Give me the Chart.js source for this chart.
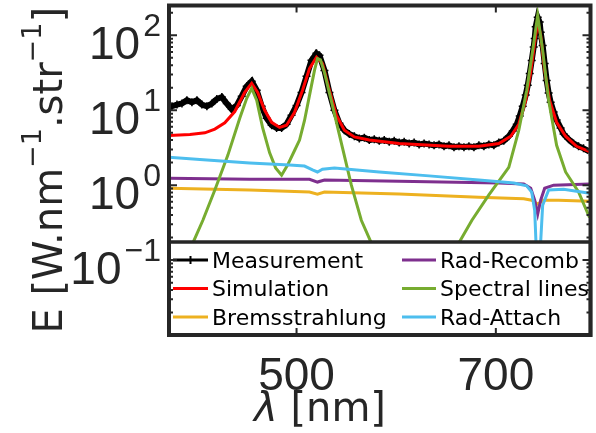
<!DOCTYPE html>
<html>
<head>
<meta charset="utf-8">
<script src="https://cdn.jsdelivr.net/npm/chart.js@4.4.1/dist/chart.umd.min.js"></script>
<style>
  html, body { margin: 0; padding: 0; background: #fff; }
</style>
</head>
<body>
<canvas id="spectrum" width="596" height="433"></canvas>
<script>
(function () {
  'use strict';

  // wavelength [nm] / emission values
  const measWl = [370, 375, 380, 385, 390, 395, 400, 405, 410, 415, 420, 425, 430, 435, 440, 445, 450, 455, 460, 465,
    470, 475, 480, 485, 490, 495, 500, 505, 510, 515, 520, 523, 528, 533, 538, 543, 548, 553, 558, 563,
    568, 573, 578, 583, 588, 593, 598, 603, 608, 613, 618, 623, 628, 633, 638, 643, 648, 653, 658, 663,
    668, 673, 678, 683, 688, 693, 698, 703, 708, 713, 717, 721, 724, 727, 730, 732, 734, 736, 738, 739,
    740, 742, 744, 745, 747, 749, 751, 753, 755, 758, 761, 765, 768, 773, 778, 783, 788, 794];
  const measE = [10.6, 11.3, 11.9, 12.3, 13.6, 12.8, 13.6, 11.9, 11.3, 12.3, 14.1, 15.0, 12.3, 10.3, 11.6, 15.4, 20.9, 24.4, 18.5, 11.3,
    7.8, 6.3, 5.8, 5.8, 6.5, 8.6, 11.6, 17.3, 28.4, 46.4, 57.5, 54, 34, 17.3, 10, 6.7, 5.4, 4.8, 4.5, 4.2,
    4.3, 4.0, 4.1, 3.9, 4.0, 3.8, 3.9, 3.7, 3.8, 3.6, 3.7, 3.5, 3.6, 3.5, 3.4, 3.5, 3.3, 3.4, 3.2, 3.3,
    3.2, 3.3, 3.2, 3.4, 3.3, 3.5, 3.4, 3.7, 3.9, 4.5, 5.3, 6.5, 8.4, 11.3, 16, 21.5, 31, 46, 70, 91,
    130, 174, 150, 110, 73, 42, 25, 17, 12.8, 9.5, 7.4, 5.8, 4.8, 4.1, 3.6, 3.3, 3.1, 2.8];

  const simWl = [370, 393, 408, 418, 428, 438, 448, 455, 461, 468, 475, 483, 490, 498, 506, 513, 520, 526, 533, 540, 548,
    558, 573, 603, 653, 683, 703, 715, 723, 730, 735, 739, 742, 745, 749, 754, 761, 770, 781, 794];
  const simE = [4.6, 4.75, 5.0, 5.6, 6.8, 9.6, 17.3, 22.9, 17.3, 10, 6.9, 5.9, 6.3, 9.4, 18.5, 36, 50.9, 42, 18.5, 8.6, 5.4,
    4.4, 4.0, 3.6, 3.3, 3.3, 3.6, 4.5, 6.5, 13.5, 32, 80, 150, 100, 34, 13.5, 6.9, 4.5, 3.3, 2.8];

  const bremsWl = [370, 453, 513, 521, 528, 603, 683, 728, 736, 742, 748, 763, 794];
  const bremsE = [0.91, 0.86, 0.81, 0.76, 0.81, 0.76, 0.69, 0.66, 0.63, 0.56, 0.63, 0.63, 0.61];

  const recombWl = [370, 453, 513, 521, 528, 603, 703, 728, 735, 739, 742, 745, 749, 758, 794];
  const recombE = [1.24, 1.2, 1.2, 1.1, 1.17, 1.13, 1.07, 1.04, 0.91, 0.63, 0.41, 0.63, 0.91, 1.0, 1.04];

  const linesWl = [370, 388, 396, 406, 418, 431, 443, 450, 455, 460, 466, 473, 479, 485, 491, 498, 503, 508, 513, 518,
    521, 524, 528, 536, 546, 555, 565, 575, 593, 623, 643, 663, 676, 693, 713, 723, 731, 737, 742, 747,
    753, 761, 770, 783, 794];
  const linesE = [0.02, 0.09, 0.17, 0.34, 0.86, 2.5, 7.8, 14.4, 19.6, 13.6, 5.8, 2.7, 1.7, 1.36, 1.85, 2.9, 4.0, 7.3, 15.8, 34,
    49, 47, 32, 11.6, 3.2, 1.0, 0.34, 0.17, 0.05, 0.02, 0.05, 0.17, 0.34, 0.74, 1.73, 5.4, 18.5, 63, 185, 63,
    13.6, 3.4, 1.5, 0.81, 0.37];

  const attachWl = [370, 403, 453, 493, 508, 516, 521, 526, 538, 583, 633, 683, 718, 731, 736, 739, 741, 742, 744, 747, 753, 768, 794];
  const attachE = [2.36, 2.2, 1.98, 1.86, 1.8, 1.6, 1.5, 1.63, 1.69, 1.5, 1.33, 1.17, 1.07, 0.98, 0.81, 0.46, 0.1, 0.012, 0.1, 0.54, 0.86, 0.88, 0.78];

  const xTicks = [500, 700];
  const yTicks = [0.1, 1, 10, 100];
  const yExp = ['\u22121', '0', '1', '2'];

  const FONT = '"DejaVu Sans", sans-serif';
  const TICKFONT = '"Liberation Sans", Arial, sans-serif';
  const AXIS = '#262626';

  function pts(xs, ys) {
    return xs.map(function (x, i) { return { x: x, y: ys[i] }; });
  }

  function series(label, xs, ys, color, order) {
    return {
      label: label,
      data: pts(xs, ys),
      borderColor: color,
      backgroundColor: color,
      borderWidth: 3,
      pointRadius: 0,
      tension: 0,
      order: order
    };
  }

  const datasets = [
    {
      label: 'Measurement',
      data: pts(measWl, measE),
      borderColor: '#000',
      backgroundColor: '#000',
      borderWidth: 6,
      pointStyle: 'cross',
      pointRadius: 4,
      pointBorderWidth: 1.5,
      pointBorderColor: '#000',
      tension: 0,
      order: 6
    },
    series('Simulation', simWl, simE, '#ff0000', 5),
    series('Bremsstrahlung', bremsWl, bremsE, '#EDB120', 4),
    series('Rad-Recomb', recombWl, recombE, '#7E2F8E', 3),
    series('Spectral lines', linesWl, linesE, '#77AC30', 2),
    series('Rad-Attach', attachWl, attachE, '#4DBEEE', 1)
  ];

  // tick labels, titles, frame and legend drawn MATLAB-style
  const decor = {
    id: 'decor',
    afterDatasetsDraw: function (chart) {
      const ctx = chart.ctx;
      const a = chart.chartArea;
      const xs = chart.scales.x;
      const ys = chart.scales.y;
      ctx.save();

      // legend box
      const lt = 242, lb = a.bottom;
      ctx.fillStyle = '#fff';
      ctx.fillRect(a.left, lt, a.right - a.left, lb - lt);
      ctx.strokeStyle = AXIS;
      ctx.lineWidth = 3.5;
      ctx.strokeRect(a.left, lt, a.right - a.left, lb - lt);

      const cols = [[173, 208, 212], [402, 436, 440]];
      const rows = [260, 288.5, 317];
      ctx.font = '22px ' + FONT;
      ctx.textBaseline = 'alphabetic';
      ctx.textAlign = 'left';
      chart.data.datasets.forEach(function (ds, i) {
        const c = cols[Math.floor(i / 3)];
        const y = rows[i % 3];
        ctx.strokeStyle = ds.borderColor;
        ctx.lineWidth = 3;
        ctx.beginPath();
        ctx.moveTo(c[0], y);
        ctx.lineTo(c[1], y);
        ctx.stroke();
        if (ds.pointStyle === 'cross') {
          ctx.lineWidth = 2;
          ctx.beginPath();
          ctx.moveTo((c[0] + c[1]) / 2, y - 4);
          ctx.lineTo((c[0] + c[1]) / 2, y + 4);
          ctx.stroke();
        }
        ctx.fillStyle = '#000';
        ctx.fillText(ds.label, c[2], y + 7.5);
      });

      // frame
      ctx.strokeStyle = AXIS;
      ctx.lineWidth = 4;
      ctx.strokeRect(a.left, a.top, a.right - a.left, a.bottom - a.top);

      // ticks (inward)
      ctx.lineWidth = 2;
      ctx.beginPath();
      for (let d = -2; d <= 2; d++) {
        for (let m = 1; m <= 9; m++) {
          const v = m * Math.pow(10, d);
          if (v < ys.min || v > ys.max) continue;
          const py = ys.getPixelForValue(v);
          const len = m === 1 ? 8 : 4;
          ctx.moveTo(a.left, py); ctx.lineTo(a.left + len, py);
          ctx.moveTo(a.right, py); ctx.lineTo(a.right - len, py);
        }
      }
      xTicks.forEach(function (t) {
        const px = xs.getPixelForValue(t);
        ctx.moveTo(px, a.top); ctx.lineTo(px, a.top + 7);
        ctx.moveTo(px, a.bottom); ctx.lineTo(px, a.bottom - 7);
      });
      ctx.stroke();

      // y tick labels 10^n
      ctx.fillStyle = AXIS;
      yTicks.forEach(function (t, i) {
        const py = ys.getPixelForValue(t);
        const right = 161;
        ctx.font = '32px ' + TICKFONT;
        const ew = ctx.measureText(yExp[i]).width;
        ctx.textAlign = 'left';
        ctx.fillText(yExp[i], right - ew, py + 1);
        ctx.font = '46px ' + TICKFONT;
        ctx.textAlign = 'right';
        ctx.fillText('10', right - ew - 3, py + 24);
      });

      // x tick labels
      ctx.font = '46px ' + TICKFONT;
      ctx.textAlign = 'center';
      xTicks.forEach(function (t) {
        ctx.fillText(String(t), xs.getPixelForValue(t), 390);
      });

      // x title
      ctx.font = 'italic 40px ' + FONT;
      ctx.textAlign = 'left';
      const lam = '\u03bb';
      const lw = ctx.measureText(lam).width;
      ctx.font = '40px ' + FONT;
      const rest = ' [nm]';
      const rw = ctx.measureText(rest).width;
      const sx = 320 - (lw + rw) / 2;
      ctx.font = 'italic 40px ' + FONT;
      ctx.fillText(lam, sx, 421);
      ctx.font = '40px ' + FONT;
      ctx.fillText(rest, sx + lw, 421);

      // y title, rotated
      const parts = [['E [W.nm', false], ['\u22121', true], ['.str', false], ['\u22121', true], [']', false]];
      const fontFor = function (sup) { return (sup ? '27px ' : '40px ') + FONT; };
      let total = 0;
      parts.forEach(function (p) { ctx.font = fontFor(p[1]); total += ctx.measureText(p[0]).width; });
      ctx.translate(62, (a.top + a.bottom) / 2);
      ctx.rotate(-Math.PI / 2);
      let cx = -total / 2;
      parts.forEach(function (p) {
        ctx.font = fontFor(p[1]);
        ctx.fillText(p[0], cx, p[1] ? -21 : 0);
        cx += ctx.measureText(p[0]).width;
      });

      ctx.restore();
    }
  };

  new Chart(document.getElementById('spectrum'), {
    type: 'line',
    data: { datasets: datasets },
    options: {
      responsive: false,
      animation: false,
      events: [],
      layout: { padding: { left: 169, right: 4, top: 5, bottom: 98 } },
      plugins: { legend: { display: false }, tooltip: { enabled: false } },
      scales: {
        x: { type: 'linear', min: 372, max: 795, display: false },
        y: { type: 'logarithmic', min: 0.01, max: 250, display: false }
      }
    },
    plugins: [decor]
  });
})();
</script>
</body>
</html>
